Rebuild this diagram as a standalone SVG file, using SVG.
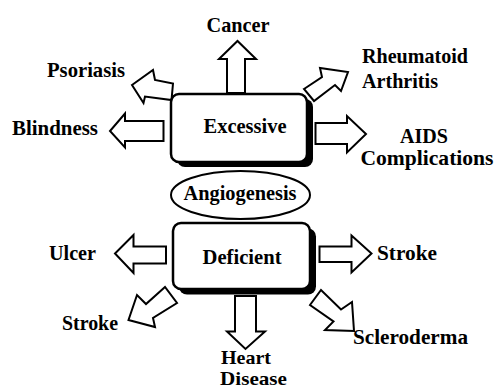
<svg xmlns="http://www.w3.org/2000/svg" width="497" height="389" viewBox="0 0 497 389">
<defs>
<style>
.arr{fill:#fff;stroke:#000;stroke-width:2;stroke-linejoin:miter}
.box{fill:#fff;stroke:#000;stroke-width:2.5}
.shadow{fill:#000}
</style>
</defs>
<rect width="497" height="389" fill="#fff"/>
<g id="connectors">
<polygon class="arr" points="227,93 227,59 219,59 237.5,41 256,59 245,59 245,93"/>
<polygon class="arr" points="132,85 153,70 155,80 173,83.5 171.5,100 145,96.5 143.5,103"/>
<polygon class="arr" points="163.5,121 125,121 125,113.5 110,131 125,147.5 125,141 163.5,141"/>
<polygon class="arr" points="304,89 322,77 320,68 348,72 341,91 335,85 314,101"/>
<polygon class="arr" points="315.5,123 347,123 347,116 366,134 347,152.5 347,144 315.5,144"/>
<polygon class="arr" points="166,246.5 133.5,246.5 133.5,235 115,253.5 133.5,273 133.5,263.5 166,263.5"/>
<polygon class="arr" points="128.5,320 137,295 146,304 165,287 177,303 153,318 155,327"/>
<polygon class="arr" points="235,296 235,331.5 227,331.5 245.5,349 265,331.5 256,331.5 256,296"/>
<polygon class="arr" points="319.5,246.5 351.5,246.5 351.5,235.5 371.5,253.5 351.5,272.5 351.5,262 319.5,262"/>
<polygon class="arr" points="310,305 321,290 341,309.5 352,302 354,331 325,330 333.5,321.5"/>
</g>
<g font-family="'Liberation Serif', 'DejaVu Serif', serif" font-weight="bold" font-size="21" fill="#000">
<g id="excessive">
<rect class="shadow" x="177" y="99" width="136" height="68" rx="8"/>
<rect class="box" x="171" y="94" width="136" height="68" rx="8"/>
<text x="245" y="133" text-anchor="middle" textLength="83" lengthAdjust="spacingAndGlyphs">Excessive</text>
</g>
<g id="angiogenesis">
<ellipse cx="240.5" cy="195" rx="69.5" ry="24" fill="#fff" stroke="#000" stroke-width="2"/>
<text x="240" y="200" text-anchor="middle" textLength="113" lengthAdjust="spacingAndGlyphs">Angiogenesis</text>
</g>
<g id="deficient">
<rect class="shadow" x="179" y="228.5" width="137" height="66" rx="8"/>
<rect class="box" x="173" y="223" width="137" height="66" rx="8"/>
<text x="242" y="264" text-anchor="middle" textLength="79" lengthAdjust="spacingAndGlyphs">Deficient</text>
</g>
<g id="cancer"><text x="238" y="32" text-anchor="middle" textLength="63" lengthAdjust="spacingAndGlyphs">Cancer</text></g>
<g id="psoriasis"><text x="47" y="77" textLength="78" lengthAdjust="spacingAndGlyphs">Psoriasis</text></g>
<g id="blindness"><text x="12" y="135" textLength="86" lengthAdjust="spacingAndGlyphs">Blindness</text></g>
<g id="rheumatoid"><text x="362" y="63" textLength="106" lengthAdjust="spacingAndGlyphs">Rheumatoid</text><text x="362" y="88" textLength="76" lengthAdjust="spacingAndGlyphs">Arthritis</text></g>
<g id="aids"><text x="424" y="143" text-anchor="middle" textLength="48" lengthAdjust="spacingAndGlyphs">AIDS</text><text x="427" y="165" text-anchor="middle" textLength="133" lengthAdjust="spacingAndGlyphs">Complications</text></g>
<g id="ulcer"><text x="49" y="260" textLength="47" lengthAdjust="spacingAndGlyphs">Ulcer</text></g>
<g id="stroke-left"><text x="62" y="330" textLength="56" lengthAdjust="spacingAndGlyphs">Stroke</text></g>
<g id="heart" font-size="19"><text x="221" y="364" textLength="50" lengthAdjust="spacingAndGlyphs">Heart</text><text x="220" y="385" textLength="67" lengthAdjust="spacingAndGlyphs">Disease</text></g>
<g id="stroke-right"><text x="377" y="260" textLength="60" lengthAdjust="spacingAndGlyphs">Stroke</text></g>
<g id="scleroderma"><text x="353" y="344" textLength="115" lengthAdjust="spacingAndGlyphs">Scleroderma</text></g>
</g>
</svg>
